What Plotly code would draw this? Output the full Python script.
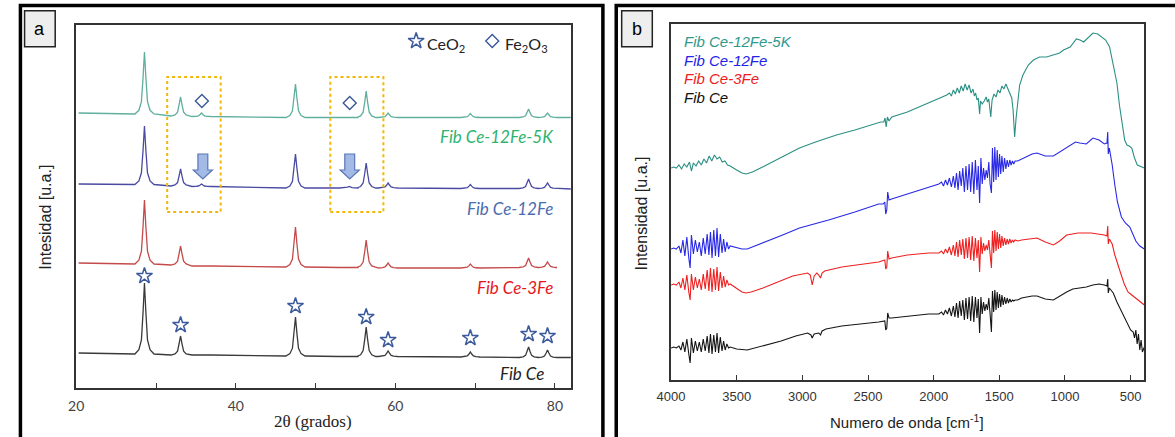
import plotly.graph_objects as go

W, H = 1175, 437

# ---------------- Panel a : XRD ----------------
xrd_peak_pos = [28.55, 33.08, 35.7, 47.48, 54.2, 56.34, 59.09, 69.4, 76.7, 79.07]

ce_base = [34, 33, 33, 32, 31.5, 31.5, 31.5, 31, 30.5, 30.5]
ce_top = [105, 52, 33, 71, 31.5, 61, 37, 36, 41, 38]
ce_ends = [35, 30.5]

ce3fe_base = [124, 123, 122, 121, 120.5, 120.5, 120, 120, 120.5, 120.5]
ce3fe_top = [188, 142, 122, 161, 120.5, 148, 125, 124, 130, 126]
ce3fe_ends = [125, 120.5]

ce12fe_base = [203.5, 202, 201.5, 200, 200, 200, 200, 199.5, 199.5, 199.5]
ce12fe_top = [262, 219, 204, 234, 201.5, 225, 205, 203.5, 209, 205]
ce12fe_ends = [204, 199]

ce12fe5k_base = [274, 272, 271.5, 270.5, 270.5, 270.5, 270.5, 270.5, 270.5, 270.5]
ce12fe5k_top = [336, 291, 275, 304, 270.5, 297, 275, 274.5, 279, 275]
ce12fe5k_ends = [275, 270.5]

xrd_x_start = 20.3
xrd_x_end = [82, 80, 82, 82]  # Ce, Ce-3Fe, Ce-12Fe, Ce-12Fe-5K

ceo2_peaks = [28.55, 33.08, 47.48, 56.34, 59.09, 69.4, 76.7, 79.07]
ceo2_star_y = [112, 63, 82, 71, 48, 50, 54, 52]
fe2o3_pos = [35.75, 54.28]
fe2o3_y = [287, 285]
arrow_pos = [35.87, 54.28]
box_ranges = [(31.4, 38.1), (51.84, 58.5)]

# peak profile shape (drawing style)
PEAK_DX = [-1.2, -0.7, -0.38, -0.17, 0, 0.17, 0.38, 0.7, 1.2]
PEAK_FRAC = [0, 0.06, 0.2, 0.6, 1, 0.6, 0.2, 0.06, 0]

# ---------------- Panel b : FTIR ----------------
teal_pts = [(4000,212),(3980,213),(3960,212),(3940,215),(3920,211),(3900,216),(3880,213),(3860,218),(3845,209),(3830,217),(3810,214),(3790,219),(3770,215),(3750,221),(3730,217),(3710,224),(3690,219),(3670,225),(3650,221),(3630,223),(3610,218),(3590,219),(3570,215),(3550,214),(3500,210),(3460,207),(3429,206),(3380,208),(3303,213),(3200,220),(3100,227),(3022,232),(2900,238),(2740,245),(2600,250),(2500,254),(2403,258),(2380,258),(2370,262),(2362,253),(2352,263),(2340,259),(2319,263),(2200,268),(2038,277),(1960,281),(1900,285),(1880,287),(1865,284),(1850,290),(1835,286),(1820,292),(1805,287),(1790,294),(1775,289),(1760,296),(1745,290),(1730,295),(1715,287),(1700,291),(1690,284),(1680,287),(1670,280),(1660,282),(1650,266),(1643,279),(1630,276),(1615,279),(1600,283),(1590,278),(1580,281),(1565,263),(1555,280),(1540,286),(1525,283),(1510,290),(1495,287),(1480,294),(1465,291),(1450,296),(1440,293),(1425,288),(1405,282),(1395,270),(1383,243),(1372,262),(1360,280),(1345,295),(1320,305),(1279,315),(1240,320),(1194,323),(1140,323),(1082,325),(1040,327),(1011,330),(960,333),(913,341),(885,340),(857,338),(820,343),(787,347),(750,346),(716,343),(690,340),(660,333),(640,320),(620,305),(604,297),(585,275),(562,253),(545,240),(528,235),(510,234),(491,232),(470,222),(449,215),(420,213),(395,212)]

blue_pts = [(4000,131),(3980,132),(3960,131),(3940,134),(3925,127),(3910,140),(3895,124),(3880,143),(3865,122),(3855,112),(3845,145),(3830,126),(3815,140),(3800,128),(3785,138),(3770,124),(3755,142),(3740,126),(3725,146),(3712,125),(3700,148),(3688,122),(3675,150),(3662,124),(3650,152),(3638,123),(3625,146),(3612,127),(3600,141),(3588,128),(3575,138),(3562,131),(3550,134),(3500,132),(3460,131),(3420,131),(3380,133),(3300,137),(3150,145),(3022,152),(2800,160),(2600,168),(2419,176),(2385,176),(2372,178),(2365,166),(2357,170),(2350,188),(2340,180),(2320,181),(2200,186),(2038,193),(1960,196),(1940,198),(1925,194),(1910,200),(1895,195),(1880,202),(1865,193),(1850,204),(1838,192),(1826,207),(1814,190),(1802,209),(1790,194),(1778,212),(1766,188),(1754,214),(1742,190),(1730,216),(1718,188),(1706,218),(1694,186),(1682,220),(1670,190),(1660,214),(1650,177),(1640,222),(1630,196),(1620,212),(1610,200),(1600,210),(1590,202),(1580,218),(1570,196),(1560,187),(1552,232),(1543,198),(1534,233),(1525,200),(1516,230),(1507,203),(1498,226),(1489,206),(1480,224),(1470,208),(1460,222),(1450,211),(1440,220),(1430,213),(1420,220),(1410,215),(1400,219),(1390,216),(1380,219),(1360,219),(1330,221),(1250,226),(1213,227),(1150,224),(1088,224),(1040,228),(987,232),(920,238),(887,237),(837,236),(787,242),(740,240),(700,236),(680,237),(674,248),(670,226),(662,232),(640,215),(620,195),(600,178),(570,163),(540,157),(506,153),(480,145),(460,139),(430,134),(395,131)]

red_pts = [(4000,95),(3980,96),(3960,95),(3940,98),(3925,92),(3910,102),(3895,90),(3880,105),(3865,88),(3855,80),(3845,106),(3830,90),(3815,103),(3800,92),(3785,101),(3770,90),(3755,106),(3740,91),(3725,110),(3712,89),(3700,112),(3688,88),(3675,111),(3662,90),(3650,113),(3638,89),(3625,108),(3612,92),(3600,104),(3588,93),(3575,100),(3562,95),(3550,96),(3500,92),(3460,88),(3430,87),(3390,88),(3300,92),(3162,99),(3074,104),(2960,107),(2940,105),(2925,95),(2910,104),(2890,107),(2875,105),(2862,102),(2850,107),(2830,109),(2700,113),(2419,118),(2385,119),(2372,120),(2365,111),(2357,113),(2350,129),(2340,121),(2320,122),(2200,125),(2038,127),(1960,127),(1940,129),(1925,126),(1910,131),(1895,127),(1880,133),(1865,125),(1850,135),(1838,124),(1826,138),(1814,123),(1802,140),(1790,125),(1778,141),(1766,121),(1754,142),(1742,122),(1730,143),(1718,120),(1706,144),(1694,119),(1682,142),(1670,122),(1660,140),(1650,108),(1640,143),(1630,126),(1620,137),(1610,129),(1600,135),(1590,130),(1580,140),(1570,126),(1560,112),(1552,149),(1543,127),(1534,150),(1525,129),(1516,148),(1507,131),(1498,146),(1489,132),(1480,144),(1470,134),(1460,142),(1450,135),(1440,141),(1430,136),(1420,141),(1410,137),(1400,140),(1390,138),(1380,140),(1360,139),(1330,140),(1250,141),(1213,142),(1150,138),(1088,135),(1040,139),(987,145),(900,147),(800,147),(700,145),(680,144),(674,154),(670,136),(662,141),(640,136),(620,125),(600,116),(576,107),(548,96),(520,88),(491,85),(464,82),(430,79),(395,75)]

black_pts = [(4000,32),(3980,33),(3960,32),(3940,34),(3925,30),(3910,38),(3895,28),(3880,41),(3865,26),(3855,17),(3845,42),(3830,27),(3815,39),(3800,29),(3785,38),(3770,28),(3755,41),(3740,29),(3725,44),(3712,27),(3700,46),(3688,26),(3675,45),(3662,28),(3650,47),(3638,27),(3625,43),(3612,29),(3600,39),(3588,30),(3575,36),(3562,32),(3550,33),(3500,31),(3420,30),(3300,34),(3162,39),(3050,44),(2960,47),(2935,45),(2925,42),(2910,46),(2875,47),(2862,45),(2850,49),(2820,51),(2700,54),(2419,58),(2385,59),(2372,59),(2365,50),(2357,52),(2350,67),(2340,62),(2320,62),(2200,64),(2038,66),(1960,66),(1940,68),(1925,65),(1910,70),(1895,66),(1880,72),(1865,64),(1850,74),(1838,63),(1826,77),(1814,62),(1802,79),(1790,64),(1778,80),(1766,60),(1754,82),(1742,61),(1730,83),(1718,59),(1706,84),(1694,58),(1682,83),(1670,62),(1660,81),(1650,47),(1640,83),(1630,66),(1620,78),(1610,69),(1600,76),(1590,70),(1580,82),(1570,66),(1560,48),(1552,89),(1543,68),(1534,90),(1525,70),(1516,88),(1507,72),(1498,86),(1489,73),(1480,85),(1470,75),(1460,83),(1450,76),(1440,82),(1430,77),(1420,81),(1410,78),(1400,80),(1390,79),(1380,80),(1360,80),(1330,82),(1250,84),(1213,84),(1150,81),(1088,80),(1040,84),(987,88),(940,91),(887,92),(837,93),(787,95),(740,96),(700,95),(680,94),(674,101),(670,87),(662,92),(632,87),(604,78),(576,70),(548,62),(520,54),(500,50),(480,48),(470,42),(460,50),(450,36),(440,46),(430,30),(420,40),(410,28),(395,33)]

ftir_labels = ["Fib Ce-12Fe-5K", "Fib Ce-12Fe", "Fib Ce-3Fe", "Fib Ce"]
xrd_labels = ["Fib Ce-12Fe-5K", "Fib Ce-12Fe", "Fib Ce-3Fe", "Fib Ce"]
xrd_tick_labels = [20, 40, 60, 80]
ftir_tick_labels = [4000, 3500, 3000, 2500, 2000, 1500, 1000, 500]

# ---------------- layout geometry (page pixels) ----------------
A_L, A_R, A_T, A_B = 63.0, 563.6, 25, 388
B_L, B_R, B_T, B_B = 665, 1144, 24, 380
A_XR = [20, 82]
A_YR = [0, 363]
B_XR = [4000, 395]
B_YR = [0, 356]


def px(x):
    return x / W


def py(y):
    return 1 - y / H


def a_data_x(page_x):
    return A_XR[0] + (page_x - A_L) / (A_R - A_L) * (A_XR[1] - A_XR[0])


def a_data_y(page_y):
    return (A_B - page_y) / (A_B - A_T) * (A_YR[1] - A_YR[0])


def xrd_curve(x0, y0, x1, y1, base, top):
    xs, ys = [x0], [y0]
    for p, b, t in zip(xrd_peak_pos, base, top):
        for dx, f in zip(PEAK_DX, PEAK_FRAC):
            xs.append(p + dx)
            ys.append(b + (t - b) * f)
    xs.append(x1)
    ys.append(y1)
    return xs, ys


fig = go.Figure()

xrd_sets = [
    (ce12fe5k_base, ce12fe5k_top, ce12fe5k_ends, xrd_x_end[3], "#5fae9e"),
    (ce12fe_base, ce12fe_top, ce12fe_ends, xrd_x_end[2], "#4a4aa2"),
    (ce3fe_base, ce3fe_top, ce3fe_ends, xrd_x_end[1], "#c44a4a"),
    (ce_base, ce_top, ce_ends, xrd_x_end[0], "#3a3a3a"),
]
for base, top, ends, xe, col in xrd_sets:
    xs, ys = xrd_curve(xrd_x_start, ends[0], xe, ends[1], base, top)
    fig.add_trace(go.Scatter(x=xs, y=ys, mode="lines", line=dict(color=col, width=1.3),
                             xaxis="x", yaxis="y", hoverinfo="skip"))

mk_col = "#3b5a9c"
fig.add_trace(go.Scatter(x=ceo2_peaks, y=ceo2_star_y, mode="markers",
                         marker=dict(symbol="star-open", size=12, color=mk_col, line=dict(width=1.5, color=mk_col)),
                         xaxis="x", yaxis="y"))
fig.add_trace(go.Scatter(x=fe2o3_pos, y=fe2o3_y, mode="markers",
                         marker=dict(symbol="diamond-open", size=10, color=mk_col, line=dict(width=1.4, color=mk_col)),
                         xaxis="x", yaxis="y"))
# legend symbols
fig.add_trace(go.Scatter(x=[a_data_x(407)], y=[a_data_y(41)], mode="markers",
                         marker=dict(symbol="star-open", size=12, color=mk_col, line=dict(width=1.5, color=mk_col)),
                         xaxis="x", yaxis="y"))
fig.add_trace(go.Scatter(x=[a_data_x(484)], y=[a_data_y(41)], mode="markers",
                         marker=dict(symbol="diamond-open", size=10, color=mk_col, line=dict(width=1.4, color=mk_col)),
                         xaxis="x", yaxis="y"))

ftir_sets = [(teal_pts, "#2b8f83"), (blue_pts, "#2828e6"), (red_pts, "#ee2020"), (black_pts, "#151515")]
for pts, col in ftir_sets:
    xs = [p[0] for p in pts]
    ys = [p[1] for p in pts]
    fig.add_trace(go.Scatter(x=xs, y=ys, mode="lines", line=dict(color=col, width=1.1),
                             xaxis="x2", yaxis="y2", hoverinfo="skip"))

shapes = []
# outer frames
shapes.append(dict(type="rect", xref="paper", yref="paper", x0=px(6.5), x1=px(596), y0=-0.05, y1=py(5.5),
                   line=dict(color="black", width=3.5)))
shapes.append(dict(type="rect", xref="paper", yref="paper", x0=px(609.5), x1=1.05, y0=-0.05, y1=py(5.5),
                   line=dict(color="black", width=3.5)))
# panel letter boxes
for x0, x1 in [(10.7, 41.7), (615, 646)]:
    shapes.append(dict(type="rect", xref="paper", yref="paper", x0=px(x0), x1=px(x1), y0=py(46.7), y1=py(10.7),
                       fillcolor="#eeeeee", line=dict(color="#222", width=1.5)))
# yellow dotted boxes
for (bx0, bx1) in box_ranges:
    shapes.append(dict(type="rect", xref="x", yref="y", x0=bx0, x1=bx1, y0=a_data_y(212), y1=a_data_y(77),
                       line=dict(color="#f2b705", width=2, dash="dot")))
# block arrows
yt, yh, yb = a_data_y(154), a_data_y(170), a_data_y(179)
for c in arrow_pos:
    path = (f"M {c-0.62},{yt} L {c+0.62},{yt} L {c+0.62},{yh} L {c+1.2},{yh} "
            f"L {c},{yb} L {c-1.2},{yh} L {c-0.62},{yh} Z")
    shapes.append(dict(type="path", xref="x", yref="y", path=path, fillcolor="#a3b9e6",
                       line=dict(color="#5a76b6", width=1.2)))


def note(text, x, y, size, family="Liberation Sans", color="#222", xanchor="center", angle=0):
    return dict(text=text, x=px(x), y=py(y), xref="paper", yref="paper", showarrow=False,
                xanchor=xanchor, yanchor="middle", textangle=angle,
                font=dict(family=family, size=size, color=color))


ann = []
ann.append(note("a", 26.2, 29, 18, color="black"))
ann.append(note("b", 630.5, 29, 18, color="black"))
ann.append(note("CeO<sub>2</sub>", 416, 44, 16, family="Lato", xanchor="left"))
ann.append(note("Fe<sub>2</sub>O<sub>3</sub>", 495, 44, 16, family="Lato", xanchor="left"))

xrd_label_cols = ["#2db36f", "#4b6cae", "#e8161b", "#222222"]
xrd_label_pos = [(549, 136), (548, 208), (548, 287), (538, 373)]
for t, c, (lx, ly) in zip(xrd_labels, xrd_label_cols, xrd_label_pos):
    ann.append(note(f"<i>{t}</i>", lx, ly, 17, family="Lato", color=c, xanchor="right"))

ftir_label_cols = ["#2f9a8c", "#2424e8", "#ee1c1c", "#111111"]
for i, (t, c) in enumerate(zip(ftir_labels, ftir_label_cols)):
    ann.append(note(f"<i>{t}</i>", 676, 41 + 19 * i, 15, color=c, xanchor="left"))

ann.append(note("Intesidad [u.a.]", 31, 217, 16, angle=-90))
ann.append(note("2θ (grados)", 303, 421, 17, family="Liberation Serif"))
ann.append(note("Intensidad [u.a.]", 635, 213, 16, angle=-90))
ann.append(note("Numero de onda [cm<sup>-1</sup>]", 904, 421, 15))

axis_common = dict(showgrid=False, zeroline=False, showline=True, mirror=True, linecolor="#333", linewidth=1.5)

fig.update_layout(
    width=W, height=H, margin=dict(l=0, r=0, t=0, b=0),
    paper_bgcolor="white", plot_bgcolor="white", showlegend=False,
    xaxis=dict(domain=[px(A_L), px(A_R)], range=A_XR, anchor="y",
               tickvals=xrd_tick_labels,
               ticks="inside", ticklen=5, tickcolor="#333", ticklabelstandoff=4,
               minor=dict(tickvals=[30, 50, 70], ticks="inside", ticklen=5, tickcolor="#333", showgrid=False),
               tickfont=dict(family="Lato", size=14, color="#444"), **axis_common),
    yaxis=dict(domain=[py(A_B), py(A_T)], range=A_YR, anchor="x", showticklabels=False, ticks="",
               **axis_common),
    xaxis2=dict(domain=[px(B_L), px(B_R)], range=B_XR, anchor="y2",
                tickvals=ftir_tick_labels,
                ticks="inside", ticklen=5, tickcolor="#333", ticklabelstandoff=4,
                tickfont=dict(family="Liberation Sans", size=13, color="#333"), **axis_common),
    yaxis2=dict(domain=[py(B_B), py(B_T)], range=B_YR, anchor="x2", showticklabels=False, ticks="",
                **axis_common),
    shapes=shapes, annotations=ann,
)

fig.write_html("out.html", config={"displayModeBar": False},
               post_script="document.body.style.margin='0';document.body.style.overflow='hidden';")
